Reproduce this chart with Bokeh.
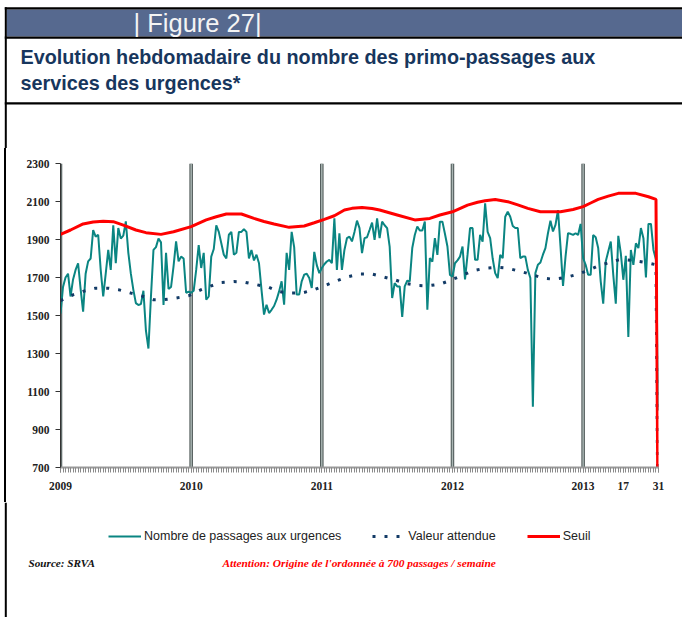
from bokeh.plotting import figure
from bokeh.layouts import column, row
from bokeh.models import (Range1d, FixedTicker, Span, Legend, LegendItem, Label,
                          BoxAnnotation, Div)
from bokeh.embed import file_html
from bokeh.resources import INLINE

# ---------------- data (weekly, week index 0 = first week of 2009) ----------------
passages_2009 = [1510, 1650, 1700, 1720, 1600, 1690, 1740, 1775, 1640, 1520,
                 1720, 1785, 1800, 1950, 1915, 1925, 1740, 1600, 1720, 1845,
                 1740, 1975, 1775, 1960, 1905, 1920, 1995, 1830, 1720, 1635,
                 1565, 1555, 1560, 1630, 1420, 1326, 1600, 1845, 1860, 1905,
                 1885, 1555, 1830, 1640, 1650, 1760, 1890, 1785, 1810, 1800,
                 1620, 1625, 1620]
passages_2010 = [1630, 1740, 1870, 1750, 1830, 1583, 1600, 1810, 1850, 1975,
                 1940, 1880, 1820, 1800, 1925, 1940, 1820, 1830, 1940, 1940,
                 1955, 1940, 1800, 1845, 1790, 1820, 1775, 1635, 1505, 1557,
                 1513, 1530, 1550, 1583, 1627, 1680, 1557, 1830, 1740, 1940,
                 1860, 1610, 1610, 1680, 1715, 1720, 1697, 1645, 1835, 1765,
                 1723, 1750]
passages_2011 = [1770, 1784, 1793, 1775, 2011, 1740, 1933, 1740, 1845, 1907,
                 1915, 1890, 1940, 1999, 1960, 1828, 1907, 1912, 1950, 1989,
                 1898, 2011, 1907, 1994, 1975, 1960, 1863, 1592, 1670, 1653,
                 1653, 1492, 1653, 1683, 1680, 1855, 1924, 1968, 1947, 1947,
                 1994, 1530, 1802, 1784, 1907, 1819, 1994, 1994, 1930, 1863,
                 1714, 1705]
passages_2012 = [1775, 1790, 1810, 1863, 1690, 1820, 1960, 1960, 1793, 1793,
                 1924, 1889, 2090, 1940, 1907, 1800, 1723, 1697, 1819, 1802,
                 2020, 2046, 2020, 1971, 1960, 1960, 1802, 1810, 1810, 1740,
                 1697, 1020, 1723, 1767, 1779, 1820, 1855, 1933, 1999, 1942,
                 1977, 2055, 1863, 1656, 1810, 1933, 1930, 1924, 1933, 1924,
                 1982, 1802]
passages_2013 = [1767, 1714, 1714, 1924, 1912, 1855, 1680, 1562, 1784, 1837,
                 1889, 1714, 1562, 1919, 1828, 1688, 1814, 1387, 1845, 1767,
                 1880, 1855, 1960, 1907, 1700, 1982, 1982, 1845, 1793, 1000]

attendue_weeks = [0, 5, 9, 14, 19, 23, 28, 33, 37, 41, 46, 51, 56, 60, 64, 69, 73, 78,
                  83, 87, 92, 96, 101, 105, 110, 114, 119, 124, 128, 133, 137, 142,
                  146, 151, 155, 160, 164, 169, 174, 178, 183, 187, 192, 196, 201,
                  205, 210, 214, 219, 223, 228, 233, 237, 238]
attendue_vals = [1578, 1609, 1627, 1644, 1644, 1636, 1618, 1600, 1583, 1583,
                 1592, 1604, 1636, 1656, 1674, 1679, 1676, 1662, 1648, 1625,
                 1618, 1618, 1636, 1656, 1683, 1703, 1718, 1718, 1705, 1688,
                 1670, 1658, 1656, 1665, 1684, 1712, 1735, 1749, 1754, 1749,
                 1732, 1718, 1697, 1691, 1700, 1714, 1737, 1761, 1781, 1796,
                 1789, 1779, 1767, 0]

seuil_weeks = [0, 4, 9, 13, 17, 21, 25, 30, 34, 40, 45, 52, 58, 62, 66, 72, 77, 81,
               85, 91, 97, 101, 105, 109, 113, 116, 120, 124, 127, 134, 141, 147,
               151, 156, 162, 166, 169, 173, 178, 182, 186, 191, 199, 204, 208,
               211, 214, 218, 222, 229, 234, 237, 238]
seuil_vals = [1927, 1950, 1982, 1992, 1996, 1994, 1976, 1950, 1936, 1927,
              1941, 1968, 2003, 2020, 2034, 2034, 2011, 1995, 1982, 1964,
              1971, 1988, 2006, 2025, 2055, 2064, 2069, 2063, 2055, 2029,
              2003, 2011, 2029, 2046, 2081, 2096, 2104, 2111, 2099, 2082,
              2064, 2046, 2046, 2058, 2073, 2092, 2111, 2128, 2143, 2143,
              2125, 2111, 0]

year_starts = [0, 52, 104, 156, 208]
x_tick_pos = [0, 52, 104, 156, 208, 224, 238]
x_tick_labels = ["2009", "2010", "2011", "2012", "2013", "17", "31"]
y_ticks = [700, 900, 1100, 1300, 1500, 1700, 1900, 2100, 2300]

series_names = ["Nombre de passages aux urgences", "Valeur attendue", "Seuil"]
title_lines = ["Evolution hebdomadaire du nombre des primo-passages aux",
               "services des urgences*"]

passages = passages_2009 + passages_2010 + passages_2011 + passages_2012 + passages_2013
weeks = list(range(len(passages)))

TEAL, NAVY, RED = "#0a8582", "#123a66", "#ff0000"
W = 682
HEAD_H, CHART_H, FOOT_H = 148, 354, 115
BAR_W = 7


def blank(width, height):
    """A figure whose plotting frame is the full canvas; data units = pixels from top-left."""
    f = figure(width=width, height=height, x_range=Range1d(0, width),
               y_range=Range1d(height, 0), output_backend="svg", toolbar_location=None,
               x_axis_location=None, y_axis_location=None, min_border=0)
    f.outline_line_color = None
    f.xgrid.visible = False
    f.ygrid.visible = False
    return f


def box(f, l, r, t, b, color):
    f.add_layout(BoxAnnotation(left=l, right=r, top=t, bottom=b, fill_color=color,
                               fill_alpha=1, line_color=None, level="underlay"))


def label(f, x, y, text, font, size, style, color):
    f.add_layout(Label(x=x, y=y, text=text, text_font=font, text_font_size=size,
                       text_font_style=style, text_color=color, text_baseline="middle",
                       text_align="left"))


# ---------------- header ----------------
head = blank(W, HEAD_H)
box(head, 6, W, 9, 36, "#56698f")         # header band
box(head, 4.3, W, 6.7, 9, "#000000")      # top rule
box(head, 4.3, W, 36, 38.3, "#000000")    # rule under band
box(head, 4.3, W, 101.7, 104, "#000000")  # rule under title
box(head, 4.3, 6.3, 6.7, HEAD_H, "#000000")  # left border
label(head, 133, 22.3, "| Figure 27|", "Liberation Sans", "25.5px", "normal", "#f4f4f4")
label(head, 20, 56.5, title_lines[0], "Liberation Sans", "19.8px", "bold", "#17365d")
label(head, 20, 82, title_lines[1], "Liberation Sans", "19.8px", "bold", "#17365d")

# ---------------- left border strip beside the chart ----------------
bar = Div(text='<div style="margin:0 0 0 4px;padding:0;width:2px;height:%dpx;'
               'background:#000000;"></div>' % CHART_H,
          width=BAR_W, height=CHART_H, margin=0)

# ---------------- chart ----------------
FL, FR, FT = 60, 658, 163          # frame edges in page pixels
p = figure(width=W - BAR_W, height=CHART_H, x_range=Range1d(0, 238),
           y_range=Range1d(700, 2300), output_backend="svg", toolbar_location=None,
           min_border_left=FL - BAR_W, min_border_right=W - FR,
           min_border_top=FT - HEAD_H, min_border_bottom=CHART_H - (FT - HEAD_H) - 304)
p.outline_line_color = None
p.xgrid.visible = False
p.ygrid.visible = False

xa = p.xaxis[0]
xa.ticker = FixedTicker(ticks=x_tick_pos, minor_ticks=weeks)
xa.major_label_overrides = {t: l for t, l in zip(x_tick_pos, x_tick_labels)}
xa.axis_line_color = "#9a9a9a"
xa.axis_line_width = 2
xa.major_tick_out = 5
xa.major_tick_in = 0
xa.minor_tick_out = 5
xa.minor_tick_in = 0
xa.major_tick_line_color = "#8a8a8a"
xa.minor_tick_line_color = "#8a8a8a"
xa.major_label_standoff = 9
xa.major_label_text_font = "Liberation Serif"
xa.major_label_text_font_style = "bold"
xa.major_label_text_font_size = "11.5px"
xa.major_label_text_color = "#222222"

ya = p.yaxis[0]
ya.ticker = FixedTicker(ticks=y_ticks)
ya.axis_line_color = "#333333"
ya.major_tick_out = 5
ya.major_tick_in = 0
ya.minor_tick_line_color = None
ya.major_tick_line_color = "#333333"
ya.major_label_standoff = 6
ya.major_label_text_font = "Liberation Serif"
ya.major_label_text_font_style = "bold"
ya.major_label_text_font_size = "11.5px"
ya.major_label_text_color = "#222222"

for ys in year_starts:
    p.add_layout(Span(location=ys, dimension="height", line_color="#4a5453",
                      line_width=3.5, level="underlay"))
    p.add_layout(Span(location=ys, dimension="height", line_color="#a9b5b3",
                      line_width=1.5, level="underlay"))

p.line(weeks, passages, line_color=TEAL, line_width=2)
p.line(attendue_weeks, attendue_vals, line_color=NAVY, line_width=3, line_dash="3 9")
p.line(seuil_weeks, seuil_vals, line_color=RED, line_width=3)

# ---------------- footer: legend + source ----------------
foot = blank(W, FOOT_H)
foot.extra_y_ranges = {"off": Range1d(-20000, -19000)}   # keeps legend proxies off-canvas
box(foot, 4.3, 6.3, 0, FOOT_H, "#000000")
g1 = foot.line(weeks, passages, line_color=TEAL, line_width=2, y_range_name="off")
g2 = foot.line(attendue_weeks, attendue_vals, line_color=NAVY, line_width=3,
               line_dash="3 9", y_range_name="off")
g3 = foot.line(seuil_weeks, seuil_vals, line_color=RED, line_width=3, y_range_name="off")
legend = Legend(items=[LegendItem(label=series_names[0], renderers=[g1]),
                       LegendItem(label=series_names[1], renderers=[g2]),
                       LegendItem(label=series_names[2], renderers=[g3])],
                orientation="horizontal", location=(108, 73),
                glyph_width=33, glyph_height=16, label_standoff=3, spacing=31,
                padding=4, margin=0, border_line_color=None,
                background_fill_alpha=0,
                label_text_font="Liberation Sans", label_text_font_size="12.5px",
                label_text_color="#222222")
foot.add_layout(legend)
label(foot, 28, 60, "Source: SRVA", "Liberation Serif", "11.2px", "bold italic", "#111111")
label(foot, 222, 60, "Attention: Origine de l'ordonnée à 700 passages / semaine",
      "Liberation Serif", "11.4px", "bold italic", RED)

layout = column(head, row(bar, p), foot)
open("out.html", "w").write(file_html(layout, INLINE))
